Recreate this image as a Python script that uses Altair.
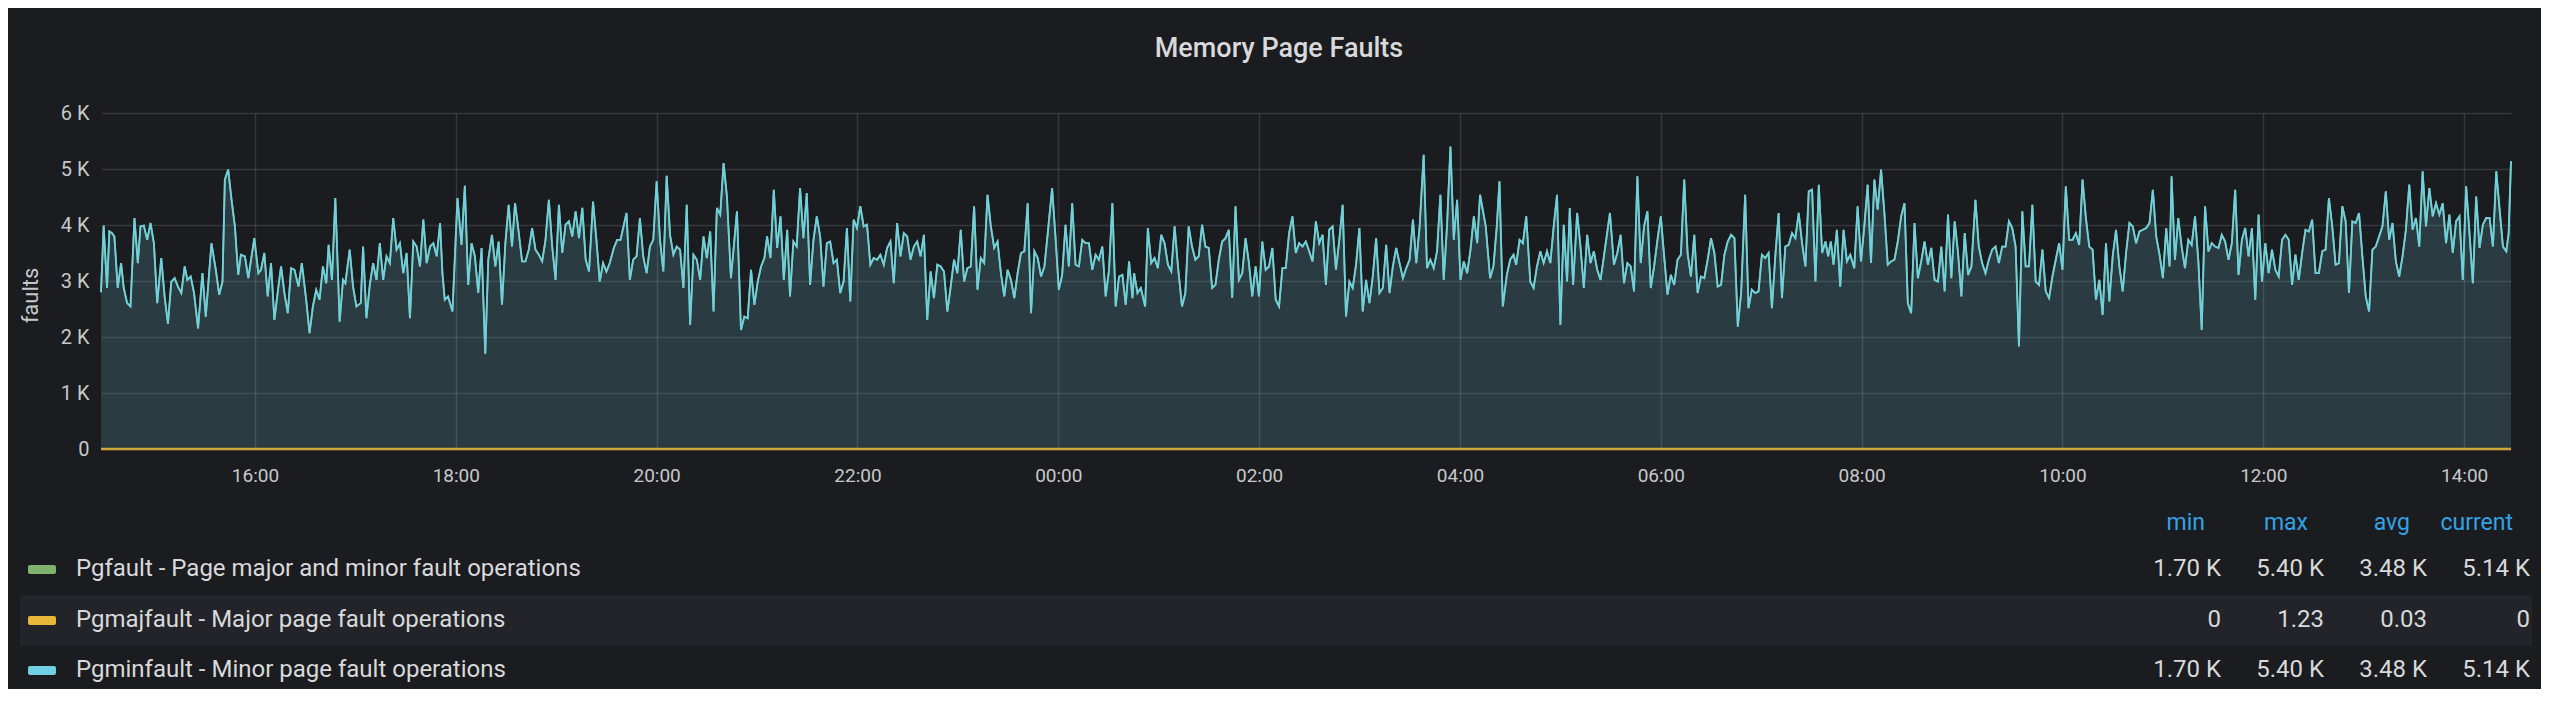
import altair as alt
import pandas as pd

# ---------------- data ----------------
START = "2021-06-01 14:28:00"          # left edge of the 24 h window
START_DT = dict(year=2021, month=6, date=1, hours=14, minutes=28)
END_DT = dict(year=2021, month=6, date=2, hours=14, minutes=28)
# x tick marks: (day of month, hour)
x_tick_times = [(1, 16), (1, 18), (1, 20), (1, 22), (2, 0), (2, 2), (2, 4), (2, 6),
                (2, 8), (2, 10), (2, 12), (2, 14)]

# Pgminfault samples: (minutes after START, faults)
pgminfault_samples = [
    (0, 2800), (1.6, 3990), (3.6, 2875), (5.0, 3885), (6.6, 3855), (8.0, 3795), (10.0, 2875), (12.0, 3320),
    (13.6, 2875), (15.6, 2605), (17.6, 2545), (20.0, 4125), (22.0, 3320), (23.6, 3975), (25.6, 3990), (27.6, 3735),
    (29.6, 4035), (31.6, 3675), (33.6, 2605), (36.0, 3410), (38.0, 2725), (40.0, 2235), (42.0, 2990), (44.0, 3050),
    (46.0, 2900), (48.0, 2785), (50.0, 3260), (51.6, 3020), (53.6, 3080), (55.6, 2785), (58.0, 2155), (60.6, 3140),
    (62.6, 2365), (66.0, 3675), (68.6, 3200), (70.6, 2755), (72.6, 2990), (74.0, 4810), (76.0, 4990), (78.0, 4450),
    (80.0, 3975), (82.0, 3110), (83.6, 3470), (86.0, 3440), (88.0, 3050), (91.6, 3765), (94.0, 3140), (95.6, 3200),
    (97.6, 3500), (99.6, 2725), (101.6, 3320), (103.6, 2305), (106.0, 2900), (107.6, 3260), (109.6, 2785), (111.6, 2425),
    (113.6, 3230), (115.6, 3200), (118.0, 2900), (120.0, 3320), (122.6, 2665), (124.6, 2070), (126.6, 2545), (128.6, 2840),
    (130.6, 2665), (132.6, 3260), (134.6, 2960), (136.0, 3645), (138.0, 3020), (140.0, 4480), (142.6, 2275), (144.6, 3020),
    (146.0, 2960), (148.6, 3560), (150.6, 2900), (152.6, 2545), (155.2, 2605), (156.6, 3615), (158.6, 2335), (160.6, 2930),
    (162.6, 3320), (164.6, 3020), (166.6, 3675), (168.6, 3020), (170.6, 3440), (172.6, 3320), (174.6, 4125), (176.6, 3560),
    (178.6, 3675), (180.6, 3140), (182.6, 3500), (184.6, 2335), (186.6, 3705), (188.6, 3615), (190.6, 3260), (192.6, 4095),
    (194.6, 3320), (196.6, 3615), (198.6, 3675), (200.6, 3440), (202.6, 4035),
    (204.0, 3140), (205.4, 2665), (207.4, 2725), (210.0, 2455), (213.0, 4480), (215.4, 3645), (217.4, 4700), (219.4, 2930),
    (221.4, 3675), (223.4, 3440), (225.4, 2785), (227.4, 3590), (229.6, 1700), (231.4, 3380), (233.6, 3825), (235.6, 3260),
    (237.6, 3705), (239.6, 2575), (241.6, 3675), (243.6, 4360), (245.6, 3615), (247.4, 4390), (249.4, 3915), (251.6, 3350),
    (253.6, 3350), (255.6, 3560), (257.6, 3945), (259.6, 3560), (261.6, 3470), (263.6, 3350), (265.6, 3735), (267.6, 4450),
    (269.6, 3615), (271.6, 3020), (273.6, 4360), (275.6, 3500), (277.6, 4005), (279.6, 4065), (281.6, 3795), (283.6, 4245),
    (285.6, 3765), (287.6, 4305), (289.6, 3380), (291.6, 3170), (294.0, 4420), (296.0, 3735), (298.0, 2990), (300.0, 3320),
    (302.0, 3170), (304.0, 3320), (306.4, 3590), (308.4, 3735), (310.4, 3735), (314.0, 4215), (316.0, 3020), (318.0, 3380),
    (320.0, 3440), (322.0, 4125), (324.0, 3440), (326.0, 3140), (328.0, 3615), (330.0, 3735), (332.0, 4780), (334.0, 3735),
    (336.0, 3170), (338.0, 4880), (340.0, 3825), (342.0, 3470), (344.0, 3615), (346.0, 3560), (348.0, 2875), (350.0, 4360),
    (352.0, 2215), (354.0, 3470), (356.0, 3380), (358.0, 3020), (360.0, 3795), (362.0, 3410), (364.0, 3885), (366.0, 2455),
    (368.0, 4305), (370.0, 4185), (372.0, 5105), (374.0, 4510), (376.4, 3050), (380.0, 4245), (382.4, 2125), (384.4, 2365),
    (386.4, 2335), (388.4, 3200), (390.4, 2575), (392.4, 2990), (394.4, 3260), (396.4, 3410), (398.0, 3795), (400.0, 3410),
    (402.0, 4630), (404.0, 3590), (406.0, 4155), (408.0, 3020), (410.0, 3915),
    (411.7, 2725), (413.7, 3705), (415.7, 3615), (417.7, 4660), (419.7, 3765), (421.7, 4570), (423.7, 2930), (425.7, 3735),
    (427.7, 4155), (429.7, 3795), (431.7, 2900), (433.7, 3675), (435.7, 3705), (437.7, 3320), (439.7, 3380), (441.7, 2785),
    (443.7, 2990), (445.7, 3945), (447.7, 2635), (449.7, 4095), (451.7, 3945), (453.7, 4335), (455.7, 3975), (457.7, 4005),
    (459.7, 3290), (461.7, 3410), (463.7, 3380), (465.7, 3470), (467.7, 3290), (469.7, 3590), (471.7, 3705), (473.7, 2960),
    (475.7, 4035), (477.7, 3440), (479.7, 3855), (481.7, 3795), (483.7, 3380), (485.7, 3615), (487.7, 3705), (489.7, 3440),
    (491.7, 3825), (493.7, 2305), (495.7, 3170), (497.7, 2695), (499.7, 3290), (501.7, 3260), (503.7, 3170), (505.7, 2455),
    (507.7, 2900), (509.7, 3380), (511.7, 3140), (513.7, 3915), (515.7, 2990), (517.7, 3230), (519.7, 3260), (521.7, 4335),
    (523.7, 2845), (525.7, 3410), (527.7, 3320), (529.7, 4540), (531.7, 3975), (533.7, 3590), (535.7, 3705), (537.7, 3140),
    (539.7, 2725), (541.7, 3200), (543.7, 3020), (545.7, 2695), (547.7, 3140), (549.7, 3500), (551.7, 3530), (553.7, 4390),
    (555.7, 2425), (557.7, 3530), (559.7, 3410), (561.7, 3080), (563.7, 3260), (565.7, 3855), (568.3, 4660), (570.3, 3795),
    (572.3, 2845), (574.3, 3110), (576.3, 4005), (578.3, 3260), (580.3, 4390), (582.3, 3290), (584.3, 3260), (586.3, 3735),
    (588.3, 3675), (590.3, 3675), (592.3, 3200), (594.3, 3470), (596.3, 3380), (598.3, 3615), (600.3, 2725), (602.3, 3200),
    (604.3, 4390), (606.3, 2545), (608.3, 3080), (610.3, 3110), (612.3, 2575), (614.3, 3350), (616.3, 2695),
    (617.3, 3140), (619.3, 2785), (621.3, 2875), (623.9, 2545), (625.5, 3945), (627.5, 3320), (629.5, 3410), (631.5, 3230),
    (633.5, 3825), (635.5, 3675), (637.5, 3290), (639.5, 3170), (641.5, 3975), (643.5, 3260), (645.9, 2545), (647.9, 2785),
    (649.9, 3975), (651.9, 3615), (653.9, 3380), (655.9, 3440), (657.9, 4005), (659.9, 3615), (661.9, 3590), (663.9, 2875),
    (665.9, 2930), (667.9, 3380), (669.9, 3705), (671.9, 3765), (673.9, 3915), (675.9, 2695), (677.9, 4335), (679.9, 3020),
    (681.9, 3140), (683.9, 3765), (685.9, 3320), (687.9, 2725), (689.9, 3260), (691.9, 2725), (693.9, 3705), (695.9, 3200),
    (697.9, 3260), (699.9, 3590), (701.9, 2665), (703.9, 2545), (705.9, 3230), (707.9, 3230), (709.9, 3855), (711.9, 4155),
    (713.9, 3500), (715.9, 3675), (717.9, 3615), (719.9, 3705), (721.9, 3530), (723.9, 3350), (725.9, 4065), (727.9, 3675),
    (729.9, 3825), (731.9, 2930), (733.9, 3915), (735.9, 3975), (737.9, 3200), (739.9, 3735), (741.9, 4360), (743.9, 2365),
    (745.9, 2990), (747.9, 2875), (749.9, 3290), (751.9, 3945), (753.9, 2455), (755.9, 3020), (757.9, 2605), (759.9, 3080),
    (761.9, 3765), (763.9, 2785), (765.9, 2875), (767.9, 3645), (769.9, 2785), (771.9, 3260), (773.9, 3590), (775.9, 3320),
    (777.9, 3050), (779.9, 3230), (781.9, 3380), (783.9, 4095), (785.9, 3320), (787.9, 3975), (790.3, 5255), (792.3, 3230),
    (794.3, 3380), (796.3, 3230), (798.3, 3530), (800.3, 4540), (802.3, 3020), (804.3, 4005), (806.3, 5400), (808.3, 3735),
    (810.3, 4450), (812.3, 3020), (814.3, 3350), (816.3, 3140), (818.3, 3560), (820.3, 4155), (822.3, 3675),
    (824.0, 4540), (827.4, 3975), (830.0, 3050), (832.0, 3260), (834.0, 3975), (835.6, 4780), (837.6, 2545), (840.0, 3110),
    (842.0, 3380), (844.0, 3470), (845.6, 3290), (847.6, 3735), (849.6, 3675), (851.6, 4155), (854.0, 2990), (856.0, 2875),
    (858.0, 3260), (860.0, 3530), (862.0, 3320), (864.0, 3530), (866.0, 3320), (868.0, 3975), (870.0, 4540), (872.0, 2215),
    (874.0, 4005), (876.0, 2990), (877.6, 4305), (879.6, 2930), (882.0, 4215), (884.0, 3615), (886.0, 2875), (888.0, 3825),
    (890.0, 3320), (892.0, 3530), (894.0, 3200), (896.0, 3020), (898.0, 3440), (901.6, 4215), (904.0, 3290), (906.0, 3500),
    (908.0, 3825), (910.0, 2960), (912.0, 3320), (914.0, 3260), (916.0, 2815), (918.0, 4870), (920.0, 3320), (922.0, 3975),
    (924.0, 4245), (926.0, 2875), (928.0, 3260), (930.0, 3735), (932.0, 4155), (934.0, 3440), (936.0, 2755), (938.0, 3110),
    (940.0, 2930), (942.0, 3380), (944.0, 3470), (946.0, 4810), (948.0, 3500), (950.0, 3080), (952.0, 3825), (954.0, 2785),
    (956.0, 3080), (958.0, 3050), (960.0, 3380), (962.0, 3765), (964.0, 3500), (966.0, 2900), (968.0, 2930), (970.0, 3470),
    (972.0, 3705), (974.0, 3825), (976.0, 3765), (978.0, 2185), (980.0, 2785), (982.4, 4540), (984.4, 2515), (986.4, 2845),
    (988.4, 2785), (990.4, 2815), (992.4, 3470), (994.4, 3410), (996.4, 3500), (998.4, 2515), (1000.4, 3440), (1002.4, 4215),
    (1004.4, 2695), (1006.4, 3615), (1008.4, 3645), (1010.4, 3855), (1012.4, 3765), (1014.4, 4215), (1016.4, 3675), (1018.4, 3260),
    (1020.4, 4600), (1022.4, 4630), (1024.4, 2990), (1026.4, 4720), (1028.4, 3500), (1030.4, 3705),
    (1032.0, 3440), (1033.6, 3705), (1035.2, 3290), (1037.2, 3915), (1039.2, 2900), (1041.2, 3915), (1043.2, 3350), (1045.2, 3470),
    (1047.6, 3230), (1049.6, 4335), (1051.6, 3350), (1053.6, 3975), (1055.6, 4720), (1057.6, 3320), (1059.6, 4810), (1061.6, 4275),
    (1063.6, 4990), (1065.6, 4215), (1067.6, 3290), (1069.6, 3350), (1071.6, 3380), (1073.6, 3705), (1075.6, 4155), (1077.6, 4390),
    (1079.6, 2605), (1081.6, 2425), (1083.6, 4035), (1085.6, 3050), (1087.6, 3350), (1089.6, 3705), (1091.6, 3290), (1093.6, 3590),
    (1095.6, 3020), (1097.6, 2990), (1099.6, 3615), (1101.6, 2815), (1103.6, 4185), (1105.6, 3050), (1107.6, 4065), (1109.6, 3500),
    (1111.6, 2725), (1113.6, 3855), (1115.6, 3110), (1117.6, 3260), (1120.0, 4450), (1122.0, 3615), (1124.0, 3320), (1126.0, 3140),
    (1128.0, 3380), (1130.0, 3560), (1132.0, 3615), (1134.0, 3320), (1136.0, 3615), (1138.0, 3615), (1140.0, 4065), (1142.0, 3945),
    (1144.0, 3615), (1146.0, 1830), (1148.0, 4245), (1150.0, 3260), (1152.0, 3260), (1154.0, 4360), (1156.0, 2990), (1158.0, 2930),
    (1160.0, 3560), (1162.0, 2815), (1164.0, 2695), (1166.0, 3080), (1168.0, 3380), (1170.0, 3675), (1172.0, 3200), (1174.0, 4690),
    (1176.0, 3735), (1178.0, 3735), (1180.0, 3855), (1182.0, 3645), (1184.0, 4810), (1186.0, 4125), (1188.0, 3615), (1190.0, 3560),
    (1192.0, 2665), (1194.0, 3020), (1196.0, 2395), (1198.0, 3675), (1200.0, 2635), (1202.0, 3440), (1204.0, 3915), (1206.0, 3260),
    (1208.0, 2815), (1210.0, 3500), (1212.0, 4035), (1214.0, 3975), (1216.0, 3675), (1218.0, 3885), (1220.0, 3915), (1222.0, 3945),
    (1224.0, 4035), (1226.0, 4630), (1228.0, 3795), (1230.0, 3470), (1232.0, 3050), (1234.0, 3945), (1236.0, 3260),
    (1237.2, 4870), (1239.2, 3380), (1241.2, 4125), (1243.2, 3615), (1245.2, 3230), (1247.2, 3735), (1249.2, 3645), (1251.2, 4155),
    (1253.2, 3350), (1255.2, 2125), (1257.2, 4335), (1259.2, 3530), (1261.2, 3675), (1263.2, 3615), (1265.2, 3590), (1267.2, 3825),
    (1269.2, 3705), (1271.2, 3380), (1273.2, 3675), (1275.2, 4630), (1277.2, 3110), (1279.2, 3735), (1281.2, 3945), (1283.2, 3440),
    (1285.2, 3945), (1287.2, 2665), (1289.2, 4185), (1291.2, 2990), (1293.2, 3675), (1295.2, 3140), (1297.2, 3560), (1299.2, 3200),
    (1301.2, 3080), (1303.2, 3735), (1305.2, 3825), (1307.2, 3735), (1309.2, 2930), (1311.2, 3470), (1313.2, 3020), (1315.2, 3500),
    (1317.2, 3915), (1319.2, 3885), (1321.2, 4095), (1323.2, 3140), (1325.2, 3140), (1327.2, 3530), (1329.2, 3560), (1331.2, 4480),
    (1333.2, 3975), (1335.2, 3290), (1337.2, 3320), (1339.2, 4335), (1341.2, 4065), (1343.2, 2785), (1345.2, 4065), (1347.2, 4035),
    (1349.2, 4215), (1351.2, 3440), (1353.2, 2725), (1355.2, 2455), (1357.2, 3560), (1359.2, 3615), (1361.2, 3795), (1363.2, 3975),
    (1365.2, 4600), (1367.2, 3735), (1369.2, 4035), (1371.2, 3350), (1373.2, 3080), (1375.2, 3440), (1377.2, 3915), (1379.2, 4720),
    (1381.2, 3915), (1383.2, 4125), (1385.2, 3615), (1387.2, 4960), (1389.2, 3975), (1391.2, 4660), (1393.2, 4155), (1395.2, 4390),
    (1397.2, 4185), (1399.2, 4390), (1401.2, 3675), (1403.2, 4185), (1405.2, 3500), (1407.2, 4065), (1409.2, 4155), (1411.2, 3020),
    (1413.2, 4690), (1415.2, 3855), (1417.2, 2960), (1419.2, 4510), (1421.2, 3590), (1423.2, 4005), (1425.2, 4125), (1427.2, 4125),
    (1429.2, 3615), (1431.2, 4960), (1433.2, 4275), (1435.2, 3615), (1437.2, 3530), (1438.6, 3855), (1440.0, 5140),
]

# Pgmajfault: essentially zero all day (max 1.23)
pgmajfault_minutes = [0, 60, 120, 180, 240, 300, 360, 420, 480, 540, 600, 660, 720,
                      780, 840, 900, 960, 1020, 1080, 1140, 1200, 1260, 1320, 1380, 1440]
pgmajfault_values = [0, 0, 0, 0.1, 0, 0, 1.23, 0, 0, 0, 0, 0.2, 0,
                     0, 0, 0, 0, 0.1, 0, 0, 0, 0, 0, 0, 0]

chart_title = "Memory Page Faults"
series_names = [
    "Pgfault - Page major and minor fault operations",
    "Pgmajfault - Major page fault operations",
    "Pgminfault - Minor page fault operations",
]
series_colors = ["#7EB26D", "#EAB839", "#6ED0E0"]
stat_headers = ["min", "max", "avg", "current"]
stat_min = ["1.70 K", "0", "1.70 K"]
stat_max = ["5.40 K", "1.23", "5.40 K"]
stat_avg = ["3.48 K", "0.03", "3.48 K"]
stat_current = ["5.14 K", "0", "5.14 K"]
y_ticks = [0, 1000, 2000, 3000, 4000, 5000, 6000]

# ---------------- frames ----------------
start = pd.Timestamp(START)
minf = pd.DataFrame(pgminfault_samples, columns=["minute", "faults"])
minf["time"] = (start + pd.to_timedelta(minf["minute"], unit="m")).dt.strftime("%Y-%m-%dT%H:%M:%S")
majf = pd.DataFrame({"minute": pgmajfault_minutes, "faults": pgmajfault_values})
majf["time"] = (start + pd.to_timedelta(majf["minute"], unit="m")).dt.strftime("%Y-%m-%dT%H:%M:%S")

# ---------------- styling ----------------
BG = "#1b1c20"
TXT = "#d8d9da"
AX = "#c7c8ca"
FONT = "Roboto"
W, H = 2410, 336

x_enc = alt.X(
    "time:T",
    title=None,
    scale=alt.Scale(domain=[alt.DateTime(**START_DT), alt.DateTime(**END_DT)]),
    axis=alt.Axis(format="%H:%M",
                  values=[alt.DateTime(year=2021, month=6, date=d, hours=h) for d, h in x_tick_times],
                  labelPadding=17, labelFontSize=19),
)
y_enc = alt.Y(
    "faults:Q",
    scale=alt.Scale(domain=[0, 6000], nice=False),
    axis=alt.Axis(values=y_ticks,
                  labelExpr="datum.value == 0 ? '0' : (datum.value / 1000) + ' K'",
                  title="faults", titleX=-71, titleY=182, titleAngle=270,
                  titleAlign="center", titleBaseline="middle",
                  titleFontSize=22, titleFontWeight="normal", titleColor=AX,
                  labelPadding=12, labelFontSize=20),
)

area = alt.Chart(minf).mark_area(color="#6ED0E0", opacity=0.18).encode(x=x_enc, y=y_enc)
green = alt.Chart(minf).mark_line(color=series_colors[0], strokeWidth=1.8).encode(
    x="time:T", y="faults:Q")
yellow = alt.Chart(majf).mark_line(color=series_colors[1], strokeWidth=2.6, opacity=0.85).encode(
    x="time:T", y="faults:Q")
blue = alt.Chart(minf).mark_line(color=series_colors[2], strokeWidth=1.8).encode(
    x="time:T", y="faults:Q")

layers = [area, green, yellow, blue]

one = pd.DataFrame({"k": [0]})

# panel title (centred on the panel, above the plot)
layers.append(alt.Chart(pd.DataFrame({"t": [chart_title]})).mark_text(
    align="center", baseline="middle", font=FONT, fontSize=27, fontWeight=500, color=TXT).encode(
    text="t:N", x=alt.value(1178), y=alt.value(-64)))

# legend table
ROW_Y = [456, 507, 557]
HEAD_Y = 410
stat_right = [2120, 2223, 2326, 2429]
head_right = [2104, 2207, 2309, 2412]

# highlighted middle row
layers.append(alt.Chart(one).mark_rect(color="#232429").encode(
    x=alt.value(-81), x2=alt.value(2431), y=alt.value(482), y2=alt.value(533)))

for h, xr in zip(stat_headers, head_right):
    layers.append(alt.Chart(pd.DataFrame({"t": [h]})).mark_text(
        align="right", baseline="middle", font=FONT, fontSize=23, color="#33a2e5").encode(
        text="t:N", x=alt.value(xr), y=alt.value(HEAD_Y)))

for i, name in enumerate(series_names):
    yc = ROW_Y[i]
    layers.append(alt.Chart(one).mark_rect(color=series_colors[i], cornerRadius=2).encode(
        x=alt.value(-73), x2=alt.value(-45), y=alt.value(yc - 4), y2=alt.value(yc + 5)))
    layers.append(alt.Chart(pd.DataFrame({"t": [name]})).mark_text(
        align="left", baseline="middle", font=FONT, fontSize=24, color=TXT).encode(
        text="t:N", x=alt.value(-25), y=alt.value(yc)))
    vals = [stat_min[i], stat_max[i], stat_avg[i], stat_current[i]]
    for v, xr in zip(vals, stat_right):
        layers.append(alt.Chart(pd.DataFrame({"t": [v]})).mark_text(
            align="right", baseline="middle", font=FONT, fontSize=24, color=TXT).encode(
            text="t:N", x=alt.value(xr), y=alt.value(yc)))

chart = alt.layer(*layers).properties(
    width=W, height=H,
    autosize=alt.AutoSizeParams(type="none"),
    padding={"left": 93, "top": 105, "right": 30, "bottom": 240},
    background=BG,
).configure_view(stroke=None).configure_axis(
    domain=False, ticks=False, labelFont=FONT, titleFont=FONT, labelColor=AX,
    gridColor="#ffffff", gridOpacity=0.12, gridWidth=1.5,
)

chart.save("out.html", embed_options={"renderer": "svg", "actions": False})
